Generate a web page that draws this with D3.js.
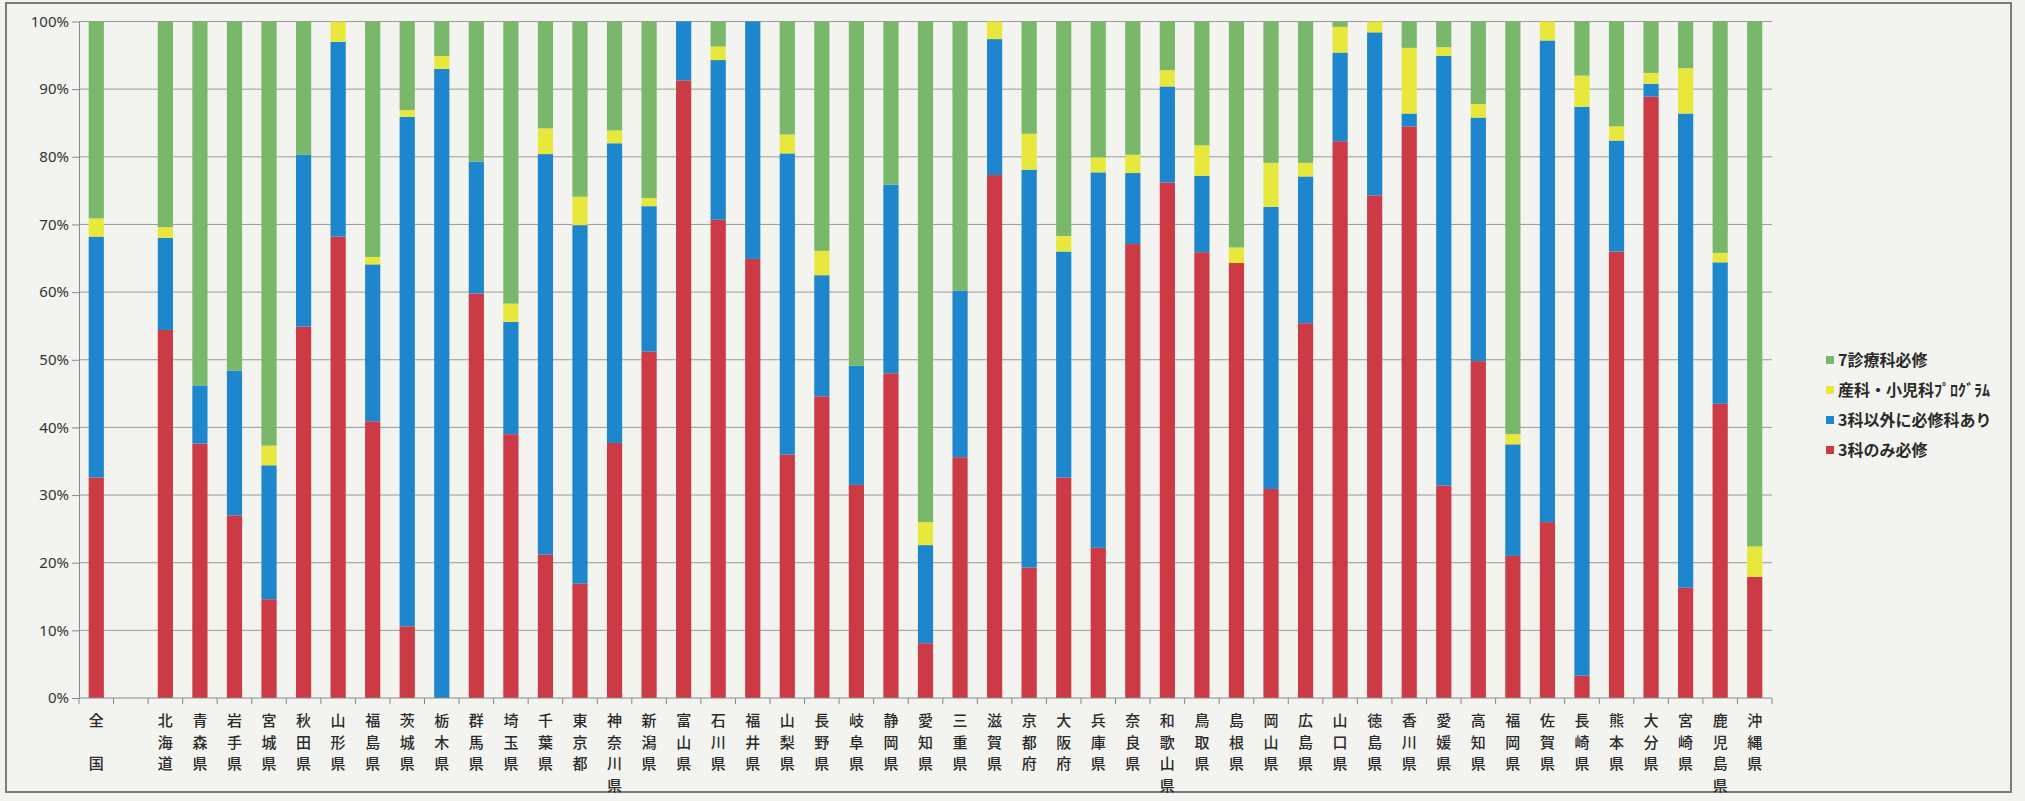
<!DOCTYPE html>
<html>
<head>
<meta charset="utf-8">
<script src="https://cdn.jsdelivr.net/npm/d3@7"></script>
<style>
  html, body { margin: 0; padding: 0; background: #f3f3ef; }
  svg { display: block; }
  .tick text { font-family: "Noto Sans", "Liberation Sans", sans-serif; font-size: 15px; fill: #333; }
  .cat, .legend text { font-family: "Noto Sans CJK JP", sans-serif; fill: #2a2a2a; }
</style>
</head>
<body>
<div id="chart"></div>
<script>
var width  = 2025;
var height = 801;

// categories ("" is the empty slot after 全国)
var categories = ["全　国", "", "北海道", "青森県", "岩手県", "宮城県", "秋田県", "山形県", "福島県",
  "茨城県", "栃木県", "群馬県", "埼玉県", "千葉県", "東京都", "神奈川県", "新潟県", "富山県",
  "石川県", "福井県", "山梨県", "長野県", "岐阜県", "静岡県", "愛知県", "三重県", "滋賀県",
  "京都府", "大阪府", "兵庫県", "奈良県", "和歌山県", "鳥取県", "島根県", "岡山県", "広島県",
  "山口県", "徳島県", "香川県", "愛媛県", "高知県", "福岡県", "佐賀県", "長崎県", "熊本県",
  "大分県", "宮崎県", "鹿児島県", "沖縄県"];

// series values (%), bottom to top
var only3 = [32.6, 0, 54.4, 37.6, 27.0, 14.6, 54.9, 68.2, 40.9,
  10.6, 0, 59.8, 39.0, 21.2, 16.9, 37.7, 51.2, 91.3,
  70.7, 64.9, 36.0, 44.6, 31.5, 48.0, 8.1, 35.6, 77.3,
  19.3, 32.6, 22.2, 67.1, 76.2, 65.9, 64.3, 30.9, 55.4,
  82.3, 74.3, 84.5, 31.4, 49.8, 21.0, 26.0, 3.3, 66.0,
  88.9, 16.3, 43.5, 17.9];
var otherReq = [35.6, 0, 13.6, 8.6, 21.4, 19.8, 25.4, 28.8, 23.2,
  75.3, 93.0, 19.5, 16.6, 59.2, 53.0, 44.3, 21.5, 8.7,
  23.6, 35.1, 44.5, 17.9, 17.6, 27.9, 14.5, 24.6, 20.1,
  58.8, 33.4, 55.5, 10.5, 14.2, 11.3, 0, 41.7, 21.7,
  13.1, 24.1, 1.9, 63.5, 36.0, 16.5, 71.2, 84.1, 16.4,
  1.9, 70.1, 20.9, 0];
var obPed = [2.7, 0, 1.6, 0, 0, 2.9, 0, 3.0, 1.1,
  1.0, 1.9, 0, 2.7, 3.8, 4.2, 1.9, 1.2, 0,
  2.0, 0, 2.8, 3.6, 0, 0, 3.4, 0, 2.6,
  5.3, 2.3, 2.2, 2.7, 2.4, 4.5, 2.3, 6.5, 2.0,
  3.8, 1.6, 9.7, 1.3, 2.0, 1.5, 2.8, 4.6, 2.1,
  1.6, 6.7, 1.4, 4.5];
var seven = [29.1, 0, 30.4, 53.8, 51.6, 62.7, 19.7, 0, 34.8,
  13.1, 5.1, 20.7, 41.7, 15.8, 25.9, 16.1, 26.1, 0,
  3.7, 0, 16.7, 33.9, 50.9, 24.1, 74.0, 39.8, 0,
  16.6, 31.7, 20.1, 19.7, 7.2, 18.3, 33.4, 20.9, 20.9,
  0.8, 0, 3.9, 3.8, 12.2, 61.0, 0, 8.0, 15.5,
  7.6, 6.9, 34.2, 77.6];

var seriesKeys   = ["only3", "otherReq", "obPed", "seven"];
var seriesNames  = ["3科のみ必修", "3科以外に必修科あり", "産科・小児科ﾌﾟﾛｸﾞﾗﾑ", "7診療科必修"];
var seriesColors = ["#cc3b45", "#1e86cc", "#e8e83c", "#79b86a"];
var yTicks = [0, 10, 20, 30, 40, 50, 60, 70, 80, 90, 100];

var table = categories.map(function(c, i) {
  return { cat: i, only3: only3[i], otherReq: otherReq[i], obPed: obPed[i], seven: seven[i] };
});

var svg = d3.select("#chart").append("svg")
  .attr("width", width)
  .attr("height", height);

// outer frame
svg.append("rect")
  .attr("x", 6).attr("y", 3)
  .attr("width", 2005).attr("height", 789)
  .attr("fill", "none")
  .attr("stroke", "#7c7c7c")
  .attr("stroke-width", 2);

var x = d3.scaleBand()
  .domain(d3.range(categories.length))
  .range([79, 1772])
  .paddingInner(0.56)
  .paddingOuter(0.28);

var y = d3.scaleLinear().domain([0, 100]).range([698, 21.5]);

// gridlines
svg.append("g").selectAll("line").data(yTicks.slice(1))
  .enter().append("line")
  .attr("x1", 79).attr("x2", 1772)
  .attr("y1", function(d) { return y(d) })
  .attr("y2", function(d) { return y(d) })
  .attr("stroke", "#9a9a9a")
  .attr("stroke-width", 1);

// stacked bars
var stack = d3.stack().keys(seriesKeys);
var layers = stack(table);

svg.append("g").selectAll("g").data(layers)
  .enter().append("g")
  .attr("fill", function(d, i) { return seriesColors[i] })
  .selectAll("rect").data(function(d) { return d })
  .enter().append("rect")
  .attr("x", function(d) { return x(d.data.cat) })
  .attr("width", x.bandwidth())
  .attr("y", function(d) { return y(d[1]) })
  .attr("height", function(d) { return Math.max(0, y(d[0]) - y(d[1])) });

// y axis
var yAxis = svg.append("g")
  .attr("transform", "translate(79,0)")
  .call(d3.axisLeft(y).tickValues(yTicks).tickSize(7).tickSizeOuter(0)
    .tickFormat(function(d) { return d + "%" }));
yAxis.select(".domain").attr("stroke", "#888");
yAxis.selectAll(".tick line").attr("stroke", "#888");
yAxis.selectAll(".tick text").attr("x", -10);

// x axis: line plus ticks at slot boundaries
var step = x.step();
svg.append("line")
  .attr("x1", 79).attr("x2", 1772)
  .attr("y1", y(0)).attr("y2", y(0))
  .attr("stroke", "#888");
svg.append("g").selectAll("line").data(d3.range(categories.length + 1))
  .enter().append("line")
  .attr("x1", function(i) { return 79 + i * step })
  .attr("x2", function(i) { return 79 + i * step })
  .attr("y1", y(0)).attr("y2", y(0) + 6)
  .attr("stroke", "#888");

// vertical category labels
var labels = svg.append("g").selectAll("text").data(categories)
  .enter().append("text")
  .attr("class", "cat")
  .attr("font-size", 15)
  .attr("font-weight", 500)
  .attr("text-anchor", "middle");
labels.each(function(c, i) {
  var t = d3.select(this);
  var cx = x(i) + x.bandwidth() / 2;
  Array.from(c).forEach(function(ch, j) {
    t.append("tspan")
      .attr("x", cx)
      .attr("y", 726 + j * 21.5)
      .text(ch);
  });
});

// legend (top entry is the top of the stack)
var legend = svg.append("g").attr("class", "legend")
  .attr("transform", "translate(1826,360)");
var legendOrder = [3, 2, 1, 0];
legendOrder.forEach(function(k, j) {
  var row = legend.append("g").attr("transform", "translate(0," + (j * 30) + ")");
  row.append("rect")
    .attr("x", 0).attr("y", -4)
    .attr("width", 8).attr("height", 8)
    .attr("fill", seriesColors[k]);
  row.append("text")
    .attr("x", 12).attr("y", 0)
    .attr("dy", "0.35em")
    .attr("font-size", 16)
    .attr("font-weight", 700)
    .text(seriesNames[k]);
});
</script>
</body>
</html>
